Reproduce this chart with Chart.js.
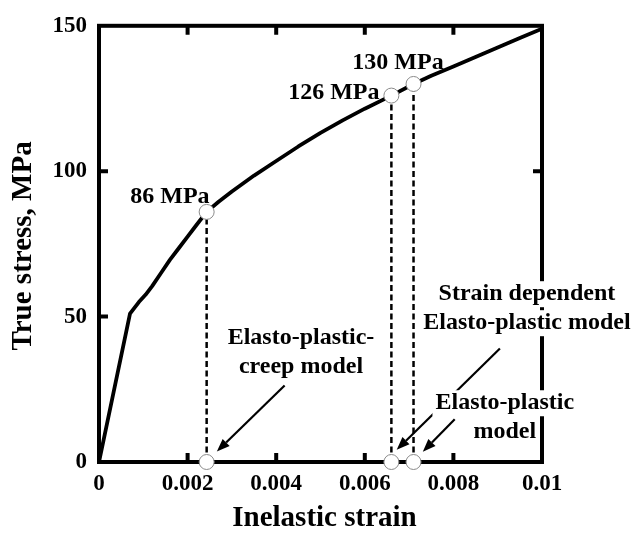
<!DOCTYPE html>
<html>
<head>
<meta charset="utf-8">
<script src="https://cdn.jsdelivr.net/npm/chart.js@4/dist/chart.umd.min.js"></script>
<style>
  html, body { margin: 0; padding: 0; background: #fff; }
  #wrap { width: 635px; height: 533px; }
</style>
</head>
<body>
<div id="wrap"><canvas id="c" width="635" height="533"></canvas></div>
<script>
// Tensile curve: inelastic strain vs true stress (MPa)
const strain = [0, 0.0007, 0.0008, 0.0009, 0.00105, 0.0012, 0.0014, 0.0016, 0.0018, 0.002, 0.0022,
                0.00243, 0.0027, 0.003, 0.0035, 0.004, 0.0045, 0.005, 0.0055, 0.006,
                0.0066, 0.0071, 0.0075, 0.008, 0.0085, 0.009, 0.0095, 0.01];
const stress = [0, 51, 53, 55, 57.5, 60.5, 65, 69.5, 73.5, 77.5, 81.5,
                86, 89.5, 93, 98.5, 103.5, 108.5, 113.2, 117.5, 121.5,
                126, 130, 132.8, 136, 139.3, 142.5, 145.8, 149];

// Stress reached by each model at its predicted strain
const modelStrain = [0.00243, 0.0066, 0.0071];
const modelStress = [86, 126, 130];
const modelStressLabels = ['86 MPa', '126 MPa', '130 MPa'];

// Axis ticks
const xTickValues = [0, 0.002, 0.004, 0.006, 0.008, 0.01];
const xTickLabels = ['0', '0.002', '0.004', '0.006', '0.008', '0.01'];
const yTickValues = [0, 50, 100, 150];
const yTickLabels = ['0', '50', '100', '150'];

const SERIF = '"Liberation Serif", "Times New Roman", serif';

// Callouts: text lines placed in data units, arrows from tail to head in data units
const callouts = [
  { x: 0.00160, y: 91.2, lines: [modelStressLabels[0]], bg: false },
  { x: 0.00530, y: 127.0, lines: [modelStressLabels[1]], bg: false },
  { x: 0.00675, y: 137.3, lines: [modelStressLabels[2]], bg: false },
  { x: 0.00456, y: 42.7, lines: ['Elasto-plastic-', 'creep model'], bg: true },
  { x: 0.00966, y: 57.7, lines: ['Strain dependent', 'Elasto-plastic model'], bg: true },
  { x: 0.00916, y: 20.2, lines: ['Elasto-plastic', 'model'], bg: true }
];
const arrows = [
  { from: [0.00419, 26.3], to: [0.00266, 3.6] },
  { from: [0.00905, 39.0], to: [0.00672, 4.2] },
  { from: [0.00803, 14.7], to: [0.00731, 3.5] }
];

const framePlugin = {
  id: 'frame',
  beforeDatasetsDraw(chart) {
    const { ctx, chartArea: a, scales: { x, y } } = chart;
    ctx.save();
    ctx.strokeStyle = '#000';
    ctx.lineWidth = 4;
    ctx.strokeRect(a.left, a.top, a.right - a.left, a.bottom - a.top);
    const len = 9;
    ctx.beginPath();
    xTickValues.slice(1, -1).forEach(v => {
      const px = x.getPixelForValue(v);
      ctx.moveTo(px, a.bottom); ctx.lineTo(px, a.bottom - len);
      ctx.moveTo(px, a.top); ctx.lineTo(px, a.top + len);
    });
    yTickValues.slice(1, -1).forEach(v => {
      const py = y.getPixelForValue(v);
      ctx.moveTo(a.left, py); ctx.lineTo(a.left + len, py);
      ctx.moveTo(a.right, py); ctx.lineTo(a.right - len, py);
    });
    ctx.stroke();
    ctx.restore();
  },
  afterDraw(chart) {
    const { ctx, chartArea: a, scales: { x, y } } = chart;
    ctx.save();
    // arrows
    ctx.strokeStyle = '#000';
    ctx.fillStyle = '#000';
    arrows.forEach(ar => {
      const x1 = x.getPixelForValue(ar.from[0]), y1 = y.getPixelForValue(ar.from[1]);
      const x2 = x.getPixelForValue(ar.to[0]), y2 = y.getPixelForValue(ar.to[1]);
      const ang = Math.atan2(y2 - y1, x2 - x1);
      const hl = 13, hw = 5;
      const bx = x2 - hl * Math.cos(ang), by = y2 - hl * Math.sin(ang);
      ctx.lineWidth = 2.2;
      ctx.beginPath(); ctx.moveTo(x1, y1); ctx.lineTo(bx, by); ctx.stroke();
      ctx.beginPath();
      ctx.moveTo(x2, y2);
      ctx.lineTo(bx + hw * Math.sin(ang), by - hw * Math.cos(ang));
      ctx.lineTo(bx - hw * Math.sin(ang), by + hw * Math.cos(ang));
      ctx.closePath(); ctx.fill();
    });
    // callout texts
    ctx.font = 'bold 24px ' + SERIF;
    ctx.textAlign = 'center';
    ctx.textBaseline = 'middle';
    const lh = 29;
    callouts.forEach(c => {
      const cx = x.getPixelForValue(c.x), cy = y.getPixelForValue(c.y);
      c.lines.forEach((t, i) => {
        const ty = cy + i * lh;
        if (c.bg) {
          const w = ctx.measureText(t).width;
          ctx.fillStyle = '#fff';
          ctx.fillRect(cx - w / 2 - 3, ty - 13, w + 6, 26);
        }
        ctx.fillStyle = '#000';
        ctx.fillText(t, cx, ty);
      });
    });
    // axis titles
    ctx.font = 'bold 29px ' + SERIF;
    ctx.fillText('Inelastic strain', (a.left + a.right) / 2 + 4, 519);
    ctx.save();
    ctx.translate(24, (a.top + a.bottom) / 2 + 2);
    ctx.rotate(-Math.PI / 2);
    ctx.fillText('True stress, MPa', 0, 0);
    ctx.restore();
    ctx.restore();
  }
};

const curve = strain.map((s, i) => ({ x: s, y: stress[i] }));
const topMarks = modelStrain.map((s, i) => ({ x: s, y: modelStress[i] }));
const bottomMarks = modelStrain.map(s => ({ x: s, y: 0 }));
const dropLines = modelStrain.map((s, i) => ({
  type: 'line',
  data: [{ x: s, y: 0 }, { x: s, y: modelStress[i] }],
  borderColor: '#000',
  borderWidth: 2.5,
  borderDash: [6, 3.5],
  pointRadius: 0,
  order: 3
}));

new Chart(document.getElementById('c'), {
  type: 'scatter',
  data: {
    datasets: [
      {
        data: topMarks.concat(bottomMarks),
        pointRadius: 7.5,
        pointBackgroundColor: '#fff',
        pointBorderColor: '#8a8a8a',
        pointBorderWidth: 1,
        showLine: false,
        clip: false,
        order: 1
      },
      {
        type: 'line',
        data: curve,
        borderColor: '#000',
        borderWidth: 3.8,
        borderJoinStyle: 'round',
        pointRadius: 0,
        tension: 0,
        order: 2
      },
      ...dropLines
    ]
  },
  options: {
    responsive: false,
    devicePixelRatio: 1,
    animation: false,
    layout: { padding: { left: 0, right: 93, top: 23, bottom: 0 } },
    plugins: { legend: { display: false }, tooltip: { enabled: false } },
    scales: {
      x: {
        type: 'linear', min: 0, max: 0.01,
        afterBuildTicks(s) { s.ticks = xTickValues.map(v => ({ value: v })); },
        afterFit(s) { s.height = 71; },
        grid: { display: false, drawTicks: false },
        border: { display: false },
        ticks: {
          padding: 8,
          color: '#000',
          font: { family: SERIF, size: 23, weight: 'bold' },
          callback: (v) => xTickLabels[xTickValues.indexOf(v)] ?? ''
        }
      },
      y: {
        type: 'linear', min: 0, max: 150,
        afterBuildTicks(s) { s.ticks = yTickValues.map(v => ({ value: v })); },
        afterFit(s) { s.width = 99; },
        grid: { display: false, drawTicks: false },
        border: { display: false },
        ticks: {
          padding: 12,
          color: '#000',
          font: { family: SERIF, size: 23, weight: 'bold' },
          callback: (v) => yTickLabels[yTickValues.indexOf(v)] ?? ''
        }
      }
    }
  },
  plugins: [framePlugin]
});
</script>
</body>
</html>
